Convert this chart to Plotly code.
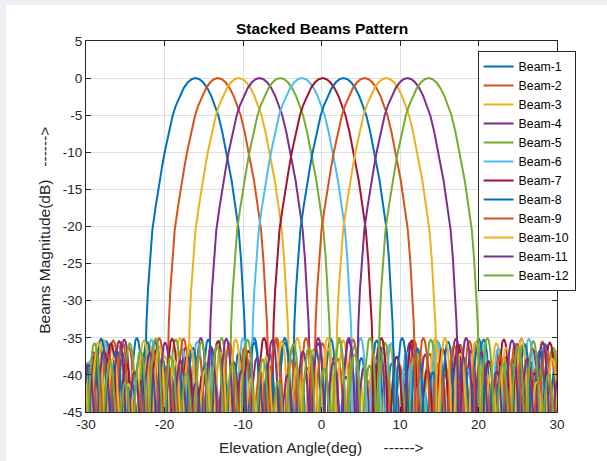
import plotly.graph_objects as go

# ---------------- data ----------------
BEAM_NAMES = [f"Beam-{i}" for i in range(1, 13)]
BEAM_CENTERS = [-16.05, -13.2, -10.55, -7.9, -5.25, -2.5, 0.15, 2.8, 5.5, 8.25, 10.95, 13.65]
COLORS = ["#0072BD", "#D95319", "#EDB120", "#7E2F8E", "#77AC30", "#4DBEEE",
          "#A2142F", "#0072BD", "#D95319", "#EDB120", "#7E2F8E", "#77AC30"]

# main-lobe half profile (offset from beam centre in deg -> dB)
ML_OFF = [0, 0.5, 1.0, 1.5, 2.0, 2.5, 2.9, 3.4, 3.93, 4.3, 4.6, 5.1, 5.5, 5.8, 6.05, 6.25, 6.37, 6.44, 6.5]
ML_DB = [0, -0.15, -0.6, -1.35, -2.4, -3.7, -5.0, -7.2, -10.0, -12.2, -13.8, -17.5, -20.5, -24.5,
         -28.5, -33.0, -37.0, -42.0, -60.0]

# side-lobe width (deg) and shape (fraction of width -> dB below lobe peak)
SL_WIDTH = 1.95
SL_U = [0, 0.03, 0.06, 0.1, 0.15, 0.22, 0.3, 0.4, 0.5, 0.6, 0.7, 0.78, 0.85, 0.9, 0.94, 0.97, 1.0]
SL_REL = [-30, -20.5, -14.5, -10.2, -6.8, -3.9, -1.8, -0.4, 0, -0.4, -1.8, -3.9, -6.8, -10.2, -14.5, -20.5, -30]

# side-lobe peak levels (dB), nearest lobe first, left and right of each beam
SL_LEFT = [
    [-35.0, -36.8, -35.4, -38.9, -36.1],
    [-35.0, -38.1, -36.2, -35.3, -39.6, -37.0, -35.6],
    [-35.0, -37.4, -35.8, -39.2, -36.0, -35.2, -38.3, -40.6, -35.6],
    [-35.0, -36.3, -39.7, -35.5, -37.6, -35.2, -40.4, -36.9, -38.7, -35.3],
    [-35.0, -38.4, -36.6, -35.2, -39.8, -37.1, -35.7, -40.9, -36.2, -38.0, -35.4, -37.5],
    [-35.0, -37.0, -39.4, -35.5, -36.5, -38.8, -35.2, -40.5, -37.4, -35.8, -38.1, -36.0, -41.0, -35.3],
    [-35.0, -36.7, -38.2, -35.4, -39.9, -37.3, -35.1, -36.5, -40.7, -38.4, -35.7, -37.1, -39.5, -35.3, -36.8],
    [-35.0, -38.8, -35.6, -37.0, -40.2, -35.2, -36.3, -39.0, -37.9, -35.5, -41.1, -36.6, -35.1, -38.5,
     -37.2, -35.9, -39.8],
    [-35.0, -37.9, -35.3, -39.5, -36.2, -35.7, -40.3, -37.4, -35.1, -38.6, -36.8, -41.0, -35.5, -37.1,
     -39.9, -35.9, -36.4, -38.2, -35.2],
    [-35.0, -36.6, -38.9, -35.4, -37.5, -40.5, -35.2, -36.9, -39.3, -35.8, -38.0, -36.1, -35.3, -41.2,
     -37.6, -35.6, -39.0, -36.5, -35.1, -38.7],
    [-35.0, -38.3, -35.7, -36.8, -40.0, -35.3, -37.7, -39.4, -35.1, -36.2, -41.1, -38.0, -35.6, -37.0,
     -39.6, -35.4, -36.7, -38.6, -35.9, -40.4, -37.3, -35.2],
    [-35.0, -37.2, -35.4, -39.1, -36.4, -35.8, -40.8, -37.9, -35.2, -38.4, -36.0, -35.5, -39.8, -37.5,
     -35.1, -36.7, -41.0, -38.1, -35.7, -36.3, -39.3, -35.3, -37.6, -40.2],
]
SL_RIGHT = [
    [-35.0, -37.2, -35.6, -39.4, -36.3, -35.1, -40.2, -37.7, -35.3, -38.4, -36.9, -41.0, -35.5, -37.9,
     -39.1, -35.2, -36.6, -40.5, -38.0, -35.8, -37.3, -39.8, -35.4, -36.4, -38.6],
    [-35.0, -36.5, -39.0, -35.7, -37.8, -35.2, -40.8, -36.9, -38.5, -35.4, -37.1, -39.9, -35.9, -36.2,
     -41.2, -37.5, -35.1, -38.8, -36.7, -35.5, -39.3, -37.6, -35.3, -40.0],
    [-35.0, -38.6, -36.4, -35.3, -40.1, -37.3, -35.9, -39.5, -36.8, -35.1, -38.0, -41.3, -36.1, -35.7,
     -37.9, -39.0, -35.4, -36.6, -40.7, -37.0, -35.2, -38.2],
    [-35.0, -37.7, -35.4, -38.9, -36.0, -41.1, -35.6, -37.2, -39.3, -35.1, -36.7, -40.3, -38.1, -35.8,
     -36.4, -39.6, -35.3, -37.4, -38.6, -35.9],
    [-35.0, -36.1, -38.7, -35.6, -40.0, -37.3, -35.2, -39.1, -36.8, -35.5, -41.4, -37.8, -35.9, -38.3,
     -36.3, -35.1, -39.7, -37.0, -35.6],
    [-35.0, -38.0, -35.7, -36.9, -40.4, -35.3, -37.8, -39.2, -35.9, -36.4, -38.5, -35.1, -40.8, -37.2,
     -35.6, -39.0, -36.2],
    [-35.0, -37.5, -35.3, -39.3, -36.4, -35.8, -41.2, -38.1, -35.2, -36.9, -39.7, -35.6, -37.7, -40.1, -35.4],
    [-35.0, -36.4, -39.6, -35.5, -37.6, -35.1, -40.6, -38.3, -35.8, -36.7, -39.2, -35.3, -37.9, -36.0],
    [-35.0, -38.4, -36.0, -35.4, -40.0, -37.3, -35.8, -39.1, -36.6, -35.2, -41.3, -37.7],
    [-35.0, -37.1, -35.5, -39.7, -36.3, -35.2, -40.9, -37.8, -35.7, -38.5],
    [-35.0, -36.9, -39.5, -35.3, -37.8, -35.6, -40.6, -38.2],
    [-35.0, -38.5, -36.1, -35.4, -39.9, -37.0, -35.2],
]

X_TICKS = [-30, -20, -10, 0, 10, 20, 30]
Y_TICKS = [-45, -40, -35, -30, -25, -20, -15, -10, -5, 0, 5]
TITLE = "Stacked Beams Pattern"
X_LABEL = "Elevation Angle(deg)\u00a0\u00a0\u00a0\u00a0\u00a0------>"
Y_LABEL = "Beams Magnitude(dB)\u00a0\u00a0\u00a0------>"

# ---------------- build traces ----------------
null_off = ML_OFF[-1]


def beam_xy(c, left, right):
    xs, ys = [], []
    for k in range(len(left) - 1, -1, -1):
        start = c - null_off - (k + 1) * SL_WIDTH
        for u, r in zip(SL_U, SL_REL):
            xs.append(start + u * SL_WIDTH)
            ys.append(left[k] + r)
    for o, d in zip(reversed(ML_OFF), reversed(ML_DB)):
        xs.append(c - o)
        ys.append(d)
    for o, d in zip(ML_OFF[1:], ML_DB[1:]):
        xs.append(c + o)
        ys.append(d)
    for k in range(len(right)):
        start = c + null_off + k * SL_WIDTH
        for u, r in zip(SL_U, SL_REL):
            xs.append(start + u * SL_WIDTH)
            ys.append(right[k] + r)
    return xs, ys


fig = go.Figure()
for name, c, col, lft, rgt in zip(BEAM_NAMES, BEAM_CENTERS, COLORS, SL_LEFT, SL_RIGHT):
    xs, ys = beam_xy(c, lft, rgt)
    fig.add_trace(go.Scatter(x=xs, y=ys, mode="lines", name=name,
                             line=dict(color=col, width=2)))

# ---------------- layout ----------------
ML, MR, MT, MB = 86, 49.5, 41, 48.5
W, H = 607, 461
PW, PH = W - ML - MR, H - MT - MB


def px_x(p):
    return (p - ML) / PW


def px_y(p):
    return (H - MB - p) / PH


FONT = "Liberation Sans, Arial, Helvetica, sans-serif"
axis_common = dict(showline=True, linecolor="#262626", linewidth=1, mirror="ticks",
                   ticks="inside", ticklen=5, tickcolor="#262626", tickwidth=1,
                   showgrid=True, gridcolor="#dfdfdf", gridwidth=1, zeroline=False,
                   tickfont=dict(family=FONT, size=13.5, color="#262626"))

fig.update_layout(
    width=W, height=H,
    margin=dict(l=ML, r=MR, t=MT, b=MB),
    paper_bgcolor="#ebeef2",
    plot_bgcolor="white",
    showlegend=True,
    xaxis=dict(range=[-30, 30], tickvals=X_TICKS, ticktext=[str(v) for v in X_TICKS], **axis_common),
    yaxis=dict(range=[-45, 5], tickvals=Y_TICKS, ticktext=[str(v) for v in Y_TICKS], **axis_common),
    legend=dict(x=px_x(478), y=px_y(51), xanchor="left", yanchor="top",
                bgcolor="white", bordercolor="#262626", borderwidth=1,
                font=dict(family=FONT, size=12.3, color="#000000"),
                tracegroupgap=0, itemwidth=30),
    shapes=[dict(type="rect", xref="paper", yref="paper", layer="below",
                 x0=px_x(6), x1=px_x(W + 2), y0=px_y(H + 2), y1=px_y(5),
                 fillcolor="white", line=dict(width=0))],
    annotations=[
        dict(text=f"<b>{TITLE}</b>", xref="paper", yref="paper", x=0.5, y=px_y(28),
             xanchor="center", yanchor="middle", showarrow=False,
             font=dict(family=FONT, size=15.5, color="#000000")),
        dict(text=X_LABEL, xref="paper", yref="paper", x=0.5, y=px_y(448),
             xanchor="center", yanchor="middle", showarrow=False,
             font=dict(family=FONT, size=15.5, color="#262626")),
        dict(text=Y_LABEL, xref="paper", yref="paper", x=px_x(45), y=px_y(231),
             xanchor="center", yanchor="middle", showarrow=False, textangle=-90,
             font=dict(family=FONT, size=15.5, color="#262626")),
    ],
)

fig.write_html("out.html")
